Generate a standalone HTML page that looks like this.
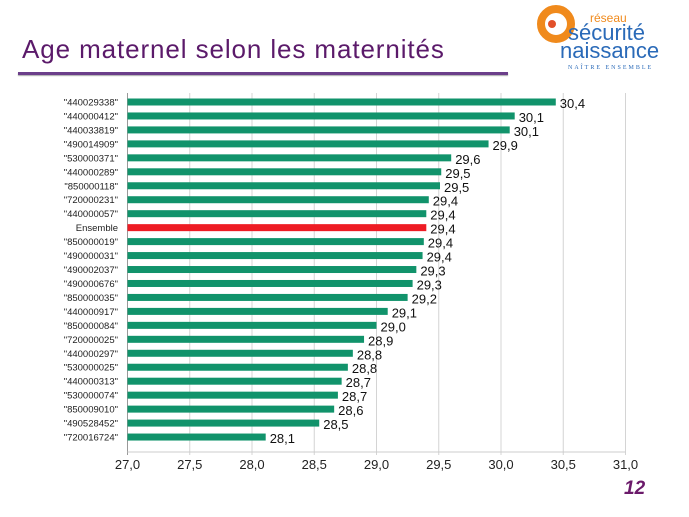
<!DOCTYPE html>
<html><head><meta charset="utf-8"><style>
body{margin:0;width:689px;height:517px;background:#fff;overflow:hidden;font-family:"Liberation Sans",sans-serif;position:relative}
</style></head><body>
<div style="position:absolute;left:22px;top:34px;font-size:26px;color:#5b1a6a;letter-spacing:0.9px">Age maternel selon les maternités</div>
<div style="position:absolute;left:18px;top:72px;width:490px;height:3px;background:#6b3f8a;box-shadow:0 1px 1px #aaa"></div>
<svg style="position:absolute;left:530px;top:2px" width="159" height="72">
<circle cx="26" cy="22" r="15" fill="none" stroke="#f08a1c" stroke-width="8"/>
<circle cx="22" cy="22" r="4" fill="#e2502a"/>
<text x="60" y="20" font-size="12" fill="#f08a1c" font-family="Liberation Sans,sans-serif">réseau</text>
<text x="38" y="38" font-size="22" fill="#2a6ab8" font-family="Liberation Sans,sans-serif">sécurité</text>
<text x="30" y="56" font-size="22" fill="#2a6ab8" font-family="Liberation Sans,sans-serif">naissance</text>
<text x="38" y="67" font-size="6" fill="#2a6ab8" letter-spacing="2" font-family="Liberation Serif,serif">NAÎTRE ENSEMBLE</text>
</svg>
<svg id="chart" style="position:absolute;left:0;top:0" width="689" height="517"></svg>
<div style="position:absolute;left:624px;top:478px;font-size:19px;font-weight:bold;font-style:italic;color:#6b1a6a">12</div>
<script>
const categories=['"440029338"','"440000412"','"440033819"','"490014909"','"530000371"','"440000289"','"850000118"','"720000231"','"440000057"','Ensemble','"850000019"','"490000031"','"490002037"','"490000676"','"850000035"','"440000917"','"850000084"','"720000025"','"440000297"','"530000025"','"440000313"','"530000074"','"850009010"','"490528452"','"720016724"'];
const values=[30.44,30.11,30.07,29.9,29.6,29.52,29.51,29.42,29.4,29.4,29.38,29.37,29.32,29.29,29.25,29.09,29.0,28.9,28.81,28.77,28.72,28.69,28.66,28.54,28.11];
const labels=["30,4","30,1","30,1","29,9","29,6","29,5","29,5","29,4","29,4","29,4","29,4","29,4","29,3","29,3","29,2","29,1","29,0","28,9","28,8","28,8","28,7","28,7","28,6","28,5","28,1"];
const ticks=[27,27.5,28,28.5,29,29.5,30,30.5,31];
const tickLabels=["27,0","27,5","28,0","28,5","29,0","29,5","30,0","30,5","31,0"];
const NS="http://www.w3.org/2000/svg",svg=document.getElementById('chart');
const x=v=>127.5+(v-27)*124.5;
const y=i=>102+i*13.96;
function mk(t,a){const e=document.createElementNS(NS,t);for(const k in a)e.setAttribute(k,a[k]);svg.appendChild(e);return e;}
ticks.forEach((t,i)=>{
 const g=mk('line',{x1:x(t),x2:x(t),y1:93,y2:455,stroke:i==0?'#999':'#d4d4d4','stroke-width':1});
 
 
 const tl=mk('text',{x:x(t),y:469,'text-anchor':'middle','font-size':13,fill:'#222'});tl.textContent=tickLabels[i];
 
 
});
mk('line',{x1:127.5,x2:625.5,y1:452,y2:452,stroke:'#ccc'});
categories.forEach((c,i)=>{
 const b=mk('rect',{x:x(27),y:y(i)-3.5,width:x(values[i])-x(27),height:7,fill:c==='Ensemble'?'#ee1c24':'#11936b'});
 
 
 const cl=mk('text',{x:118,y:y(i)+3.5,'text-anchor':'end','font-size':9.5,fill:'#222'});cl.textContent=c;
 
 
 const vl=mk('text',{x:x(values[i])+4,y:y(i)+6,'font-size':13,fill:'#111'});vl.textContent=labels[i];
 
 
});
</script>
</body></html>
